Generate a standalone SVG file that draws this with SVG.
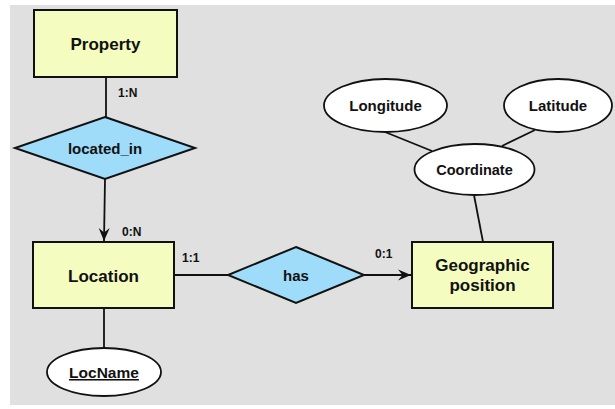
<svg xmlns="http://www.w3.org/2000/svg" width="615" height="409" viewBox="0 0 615 409">
  <style>
    .entity { fill: #f4fcc0; stroke: #111; stroke-width: 2; }
    .rel { fill: #9edcfa; stroke: #111; stroke-width: 2; }
    .attr { fill: #ffffff; stroke: #111; stroke-width: 1.8; }
    .edge { fill: none; stroke: #111; stroke-width: 1.8; }
    text { font-family: "Liberation Sans", Arial, sans-serif; font-weight: bold; fill: #111; text-anchor: middle; }
    .t17 { font-size: 17px; }
    .t15 { font-size: 15px; }
    .card { font-size: 12px; text-anchor: start; }
  </style>
  <defs>
    <marker id="arrow" markerUnits="userSpaceOnUse" markerWidth="16" markerHeight="14" viewBox="-14 -7 16 14" refX="0" refY="0" orient="auto">
      <path d="M0,0 L-13,-5.5 L-8.5,0 L-13,5.5 Z" fill="#111"/>
    </marker>
  </defs>

  <!-- canvas -->
  <rect x="10" y="5" width="605" height="400" fill="#e0e0e0"/>

  <!-- connectors -->
  <g id="connectors">
    <line class="edge" x1="106" y1="77" x2="106" y2="117"/>
    <line class="edge" x1="105" y1="179" x2="104" y2="241" marker-end="url(#arrow)"/>
    <line class="edge" x1="104" y1="308" x2="104" y2="348"/>
    <line class="edge" x1="174" y1="275" x2="228" y2="275"/>
    <line class="edge" x1="363" y1="275" x2="411" y2="275" marker-end="url(#arrow)"/>
    <line class="edge" x1="474" y1="195" x2="483" y2="242"/>
    <line class="edge" x1="385" y1="132" x2="432" y2="151"/>
    <line class="edge" x1="535" y1="130" x2="502" y2="146"/>
    <text class="card" x="118" y="97">1:N</text>
    <text class="card" x="122" y="236">0:N</text>
    <text class="card" x="182" y="262">1:1</text>
    <text class="card" x="375" y="258">0:1</text>
  </g>

  <g id="property">
    <rect class="entity" x="34" y="10" width="143" height="67"/>
    <text class="t17" x="105.5" y="50">Property</text>
  </g>

  <g id="located_in">
    <polygon class="rel" points="105,117 195,148 105,179 15,148"/>
    <text class="t15" x="105" y="154">located_in</text>
  </g>

  <g id="location">
    <rect class="entity" x="33" y="242" width="141" height="66"/>
    <text class="t17" x="103.5" y="282">Location</text>
  </g>

  <g id="locname">
    <ellipse class="attr" cx="104" cy="372" rx="57" ry="24"/>
    <text class="t15" x="104" y="378" text-decoration="underline" style="font-size:15.5px">LocName</text>
  </g>

  <g id="has">
    <polygon class="rel" points="296,247 364,275 296,303 228,275"/>
    <text class="t15" x="296" y="281">has</text>
  </g>

  <g id="geographic_position">
    <rect class="entity" x="412" y="242" width="141" height="66"/>
    <text class="t17" x="482.5" y="271">Geographic</text>
    <text class="t17" x="482.5" y="291">position</text>
  </g>

  <g id="coordinate">
    <ellipse class="attr" cx="474.5" cy="169.5" rx="60" ry="25.5"/>
    <text x="474.5" y="175" style="font-size:14.5px">Coordinate</text>
  </g>

  <g id="longitude">
    <ellipse class="attr" cx="385.5" cy="105.5" rx="61.5" ry="26.5"/>
    <text class="t15" x="385.5" y="111">Longitude</text>
  </g>

  <g id="latitude">
    <ellipse class="attr" cx="558" cy="105.5" rx="54" ry="26.5"/>
    <text class="t15" x="558" y="111">Latitude</text>
  </g>
</svg>
